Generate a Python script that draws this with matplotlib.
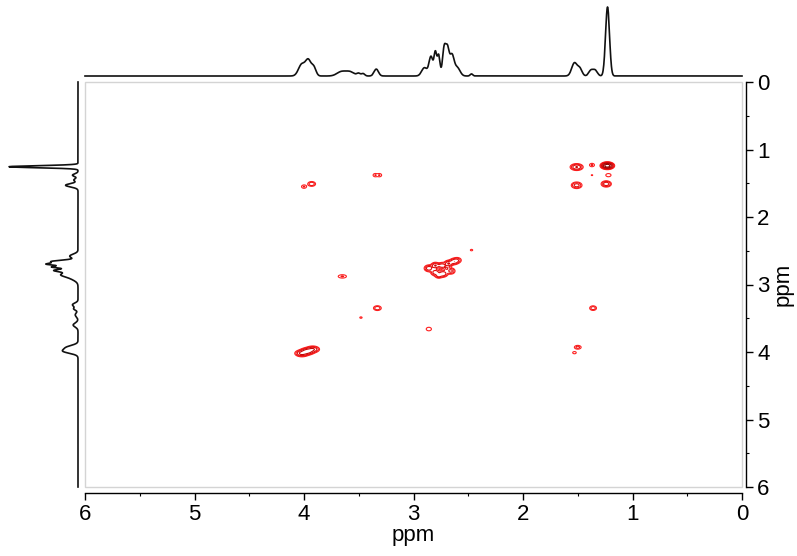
"""
2D COSY-type spectrum with 1D projections on top and left.
Peak lists read off the reference picture; lineshapes are Gaussian.
"""

import numpy as np
import matplotlib

matplotlib.use("Agg")
import matplotlib.pyplot as plt
from matplotlib.patches import Rectangle
from matplotlib.ticker import MultipleLocator

plt.rcParams["font.family"] = ["Liberation Sans", "DejaVu Sans"]

# top (f2) projection: position ppm, relative height, sigma ppm
TOP_PPM = [4.02, 3.96, 3.91, 3.66, 3.58, 3.50, 3.46, 3.34, 2.90, 2.84, 2.80, 2.77,
           2.72, 2.69, 2.65, 2.60, 2.47, 1.53, 1.48, 1.38, 1.34, 1.228]
TOP_HEIGHT = [0.17, 0.22, 0.12, 0.06, 0.06, 0.035, 0.035, 0.10, 0.12, 0.28, 0.33, 0.30,
              0.40, 0.36, 0.30, 0.12, 0.03, 0.19, 0.10, 0.08, 0.08, 1.0]
TOP_WIDTH = [0.03, 0.025, 0.02, 0.04, 0.04, 0.015, 0.015, 0.02, 0.025, 0.018, 0.012, 0.012,
             0.015, 0.015, 0.02, 0.025, 0.012, 0.025, 0.02, 0.02, 0.02, 0.018]

# left (f1) projection
LEFT_PPM = [1.255, 1.38, 1.45, 1.53, 2.58, 2.66, 2.70, 2.74, 2.79, 2.85, 2.90,
            3.30, 3.36, 3.45, 3.60, 3.93, 3.99]
LEFT_HEIGHT = [1.0, 0.08, 0.06, 0.18, 0.12, 0.38, 0.40, 0.36, 0.32, 0.20, 0.10,
               0.08, 0.06, 0.04, 0.07, 0.15, 0.20]
LEFT_WIDTH = [0.015, 0.02, 0.02, 0.025, 0.03, 0.02, 0.015, 0.015, 0.02, 0.03, 0.04,
              0.025, 0.02, 0.03, 0.03, 0.03, 0.03]

# cross peaks: f2 ppm (x), f1 ppm (y), amplitude, sigma x, sigma y
CROSS_F2 = [1.23, 1.51, 1.37, 1.37, 1.22, 1.51, 1.24,
            4.00, 3.93, 3.35, 3.31,
            2.86, 2.80, 2.80, 2.73, 2.74, 2.68, 2.63, 2.66, 2.60, 2.77, 2.70,
            2.47, 2.86, 3.65, 3.33, 3.48,
            4.02, 3.97, 3.92,
            1.36, 1.50, 1.53]
CROSS_F1 = [1.24, 1.26, 1.23, 1.38, 1.38, 1.53, 1.51,
            1.55, 1.51, 1.38, 1.38,
            2.76, 2.72, 2.82, 2.84, 2.72, 2.69, 2.66, 2.80, 2.64, 2.87, 2.76,
            2.49, 3.66, 2.88, 3.35, 3.49,
            4.02, 3.99, 3.96,
            3.35, 3.93, 4.01]
CROSS_AMP = [3.0, 0.5, 0.13, 0.07, 0.12, 0.35, 0.4,
             0.13, 0.22, 0.12, 0.12,
             0.4, 0.5, 0.4, 0.45, 0.4, 0.5, 0.4, 0.3, 0.22, 0.3, 0.25,
             0.08, 0.12, 0.13, 0.22, 0.08,
             0.6, 0.8, 0.5,
             0.2, 0.16, 0.1]
CROSS_SX = [0.024, 0.029, 0.018, 0.012, 0.02, 0.026, 0.024,
            0.018, 0.022, 0.016, 0.016,
            0.022, 0.02, 0.022, 0.022, 0.02, 0.02, 0.022, 0.022, 0.022, 0.018, 0.016,
            0.014, 0.02, 0.03, 0.022, 0.014,
            0.03, 0.03, 0.03,
            0.02, 0.022, 0.016]
CROSS_SY = [0.021, 0.025, 0.02, 0.012, 0.02, 0.026, 0.024,
            0.02, 0.022, 0.02, 0.02,
            0.026, 0.024, 0.026, 0.026, 0.024, 0.024, 0.024, 0.026, 0.024, 0.02, 0.02,
            0.014, 0.022, 0.02, 0.022, 0.014,
            0.024, 0.024, 0.024,
            0.022, 0.02, 0.016]

LEVELS = [0.06, 0.12, 0.24, 0.48, 0.96, 1.9]
LEVEL_COLORS = ["#ff2020", "#f01515", "#e00c0c", "#c80606", "#a80000", "#8a0000"]


def projection(axis, pos, height, width):
    out = np.zeros_like(axis)
    for p, h, w in zip(pos, height, width):
        out += h * np.exp(-0.5 * ((axis - p) / w) ** 2)
    return out


ppm = np.linspace(0, 6, 3000)
top = projection(ppm, TOP_PPM, TOP_HEIGHT, TOP_WIDTH)
left = projection(ppm, LEFT_PPM, LEFT_HEIGHT, LEFT_WIDTH)

gx = np.linspace(0, 6, 1500)
gy = np.linspace(0, 6, 1500)
Z = np.zeros((gy.size, gx.size))
for x0, y0, a, sx, sy in zip(CROSS_F2, CROSS_F1, CROSS_AMP, CROSS_SX, CROSS_SY):
    Z += a * np.outer(np.exp(-0.5 * ((gy - y0) / sy) ** 2),
                      np.exp(-0.5 * ((gx - x0) / sx) ** 2))

W, H = 797, 556
fig = plt.figure(figsize=(W / 100, H / 100), dpi=100)

x0px, x1px = 85, 742
y0px, y1px = 82, 487
ax = fig.add_axes([x0px / W, 1 - y1px / H, (x1px - x0px) / W, (y1px - y0px) / H])
ax_top = fig.add_axes([x0px / W, 1 - 76 / H, (x1px - x0px) / W, 69 / H])
ax_left = fig.add_axes([9 / W, 1 - y1px / H, 69 / W, (y1px - y0px) / H])

ax.contour(gx, gy, Z, levels=LEVELS, colors=LEVEL_COLORS, linewidths=0.8)
ax.set_xlim(6, 0)
ax.set_ylim(6, 0)
ax.add_patch(Rectangle((0, 0), 1, 1, transform=ax.transAxes, fill=False,
                       ec="#d4d4d4", lw=1.0, clip_on=False, zorder=0))
ax.spines[["top", "left"]].set_visible(False)
ax.spines["bottom"].set_position(("outward", 4))
ax.spines["right"].set_position(("outward", 3))
ax.spines["bottom"].set_linewidth(1.0)
ax.spines["right"].set_linewidth(1.0)
ax.yaxis.tick_right()
ax.yaxis.set_label_position("right")
for axis in (ax.xaxis, ax.yaxis):
    axis.set_major_locator(MultipleLocator(1))
    axis.set_minor_locator(MultipleLocator(0.5))
ax.tick_params(which="major", direction="out", length=5, width=1, labelsize=16, pad=3)
ax.tick_params(which="minor", direction="out", length=2.5, width=0.8)
ax.set_xlabel("ppm", fontsize=16, labelpad=0)
ax.set_ylabel("ppm", fontsize=16, labelpad=2)

ax_top.plot(ppm, top, color="#111111", lw=1.2)
ax_top.set_xlim(6, 0)
ax_top.set_ylim(0, 1.0)
ax_top.axis("off")
for line in ax_top.lines:
    line.set_clip_on(False)

ax_left.plot(left, ppm, color="#111111", lw=1.2)
ax_left.set_xlim(1.0, 0)
ax_left.set_ylim(6, 0)
ax_left.axis("off")
for line in ax_left.lines:
    line.set_clip_on(False)

fig.savefig("out.png", dpi=100)
